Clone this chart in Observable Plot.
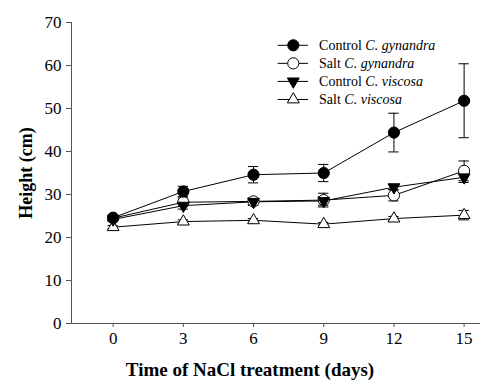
<!DOCTYPE html>
<html><head><meta charset="utf-8">
<script src="https://cdn.jsdelivr.net/npm/d3@7"></script>
<script src="https://cdn.jsdelivr.net/npm/@observablehq/plot@0.6"></script>
<style>body{margin:0;background:#fff}#chart{width:480px;height:385px}
#chart svg, #chart svg text{font-family:'Liberation Serif','Times New Roman',serif !important}</style>
</head><body><div id="chart"></div>
<script>
// ---- data ----
const days = [0, 3, 6, 9, 12, 15];
const yTicks = [0, 10, 20, 30, 40, 50, 60, 70];
const seriesNames = ["Control", "Salt", "Control", "Salt"];
const speciesNames = ["C. gynandra", "C. gynandra", "C. viscosa", "C. viscosa"];
const cgControl    = [24.6, 30.7, 34.6, 35.0, 44.4, 51.8];
const cgControlErr = [0.6, 1.2, 1.9, 2.0, 4.5, 8.6];
const cgSalt       = [24.5, 28.2, 28.4, 28.7, 29.8, 35.5];
const cgSaltErr    = [0.5, 1.0, 0.8, 1.6, 1.3, 2.3];
const cvControl    = [24.2, 27.4, 28.3, 28.5, 31.7, 34.0];
const cvControlErr = [0.5, 0.8, 0.8, 1.0, 0.6, 1.2];
const cvSalt       = [22.4, 23.7, 24.0, 23.1, 24.4, 25.2];
const cvSaltErr    = [0.4, 0.4, 0.4, 0.4, 0.5, 1.1];

// ---- styling ----
const values = [cgControl, cgSalt, cvControl, cvSalt];
const errs = [cgControlErr, cgSaltErr, cvControlErr, cvSaltErr];
const symbols = ["circle", "circle", "triangle", "triangle"];
const fills = ["black", "white", "black", "white"];
const rotates = [0, 0, 180, 0];
const radii = [5.6, 5.6, 4.4, 4.4];
const drawOrder = [3, 1, 2, 0];
const xDomain = [-1.78, 15.7];
const capHalf = 0.22;
const font = "'Liberation Serif', 'Times New Roman', serif";

const rows = [];
values.forEach((vals, s) => vals.forEach((v, i) => rows.push({s, day: days[i], v, e: errs[s][i]})));

// legend layout (data units)
const legX0 = 7.05, legX1 = 8.35, legXm = 7.7, legXt = 8.8, legY0 = 64.7, legStep = 4.2;
const legend = seriesNames.map((n, i) => ({s: i, y: legY0 - i * legStep, name: n, species: speciesNames[i]}));

const marks = [
  Plot.ruleY([0], {stroke: "#555"}),
  Plot.ruleX([xDomain[0]], {stroke: "#555"}),
  Plot.axisY({ticks: yTicks, tickSize: 5, tickPadding: 5, stroke: "#555", fill: "black", fontFamily: font,
    label: "Height (cm)", labelAnchor: "center", labelArrow: "none", labelOffset: 52, fontSize: 17}),
  Plot.axisX({ticks: days, tickSize: 4, tickPadding: 4, stroke: "#555", fill: "black", fontFamily: font,
    label: "Time of NaCl treatment (days)", labelAnchor: "center", labelArrow: "none", labelOffset: 52, fontSize: 17}),
  Plot.line(rows, {x: "day", y: "v", z: "s", stroke: "black", strokeWidth: 1}),
  Plot.ruleX(rows, {x: "day", y1: d => d.v - d.e, y2: d => d.v + d.e, stroke: "black", strokeWidth: 1}),
  Plot.ruleY(rows, {y: d => d.v + d.e, x1: d => d.day - capHalf, x2: d => d.day + capHalf, stroke: "black", strokeWidth: 1}),
  Plot.ruleY(rows, {y: d => d.v - d.e, x1: d => d.day - capHalf, x2: d => d.day + capHalf, stroke: "black", strokeWidth: 1}),
  ...drawOrder.map(s => Plot.dot(rows.filter(d => d.s === s), {x: "day", y: "v",
    symbol: () => symbols[s], r: radii[s], fill: fills[s], stroke: "black", strokeWidth: 1, rotate: rotates[s]})),
  // legend
  Plot.ruleY(legend, {y: "y", x1: () => legX0, x2: () => legX1, stroke: "black", strokeWidth: 1}),
  ...legend.map(L => Plot.dot([L], {x: () => legXm, y: "y", symbol: () => symbols[L.s], r: radii[L.s],
    fill: fills[L.s], stroke: "black", strokeWidth: 1, rotate: rotates[L.s]})),
  Plot.text(legend, {x: () => legXt, y: "y", text: d => d.name + " " + d.species, textAnchor: "start",
    fontSize: 14, fill: "black", fontFamily: font, className: "legtext"})
];

const chart = Plot.plot({
  width: 480, height: 385,
  marginLeft: 71, marginRight: 0, marginTop: 22, marginBottom: 62,
  style: {fontFamily: font, fontSize: "16px", background: "white", color: "black"},
  x: {domain: xDomain},
  y: {domain: [0, 70]},
  symbol: {type: "identity"},
  marks
});

// bold axis titles
d3.select(chart).selectAll("[aria-label='y-axis label'] text")
  .attr("font-weight", "bold").attr("font-size", 18);
d3.select(chart).selectAll("[aria-label='x-axis label'] text")
  .attr("font-weight", "bold").attr("font-size", 19).attr("dx", -26);
// mixed-style legend text
d3.select(chart).selectAll(".legtext text").each(function(_, i) {
  const t = d3.select(this);
  t.text(null);
  t.append("tspan").text(legend[i].name + " ");
  t.append("tspan").attr("font-style", "italic").text(legend[i].species);
});
document.getElementById("chart").append(chart);
</script>
</body></html>
